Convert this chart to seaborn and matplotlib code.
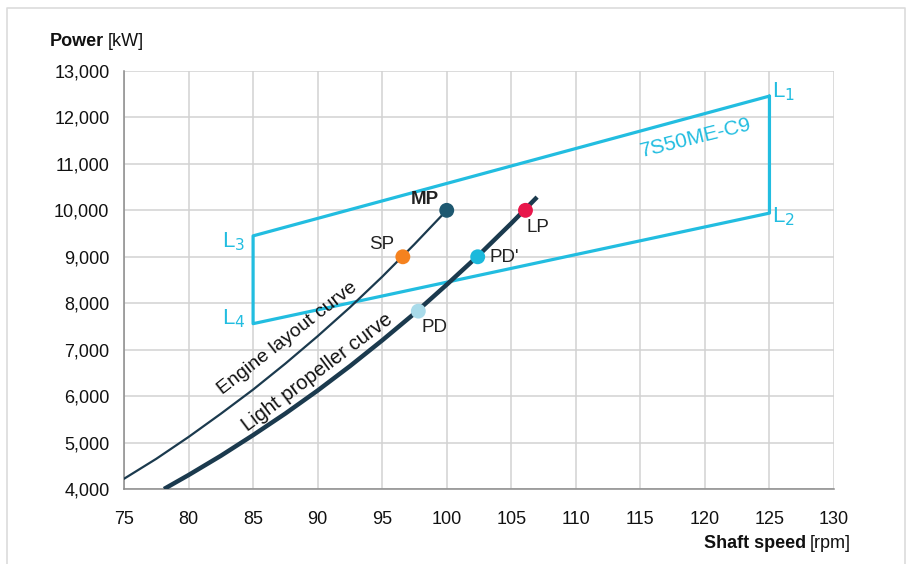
import numpy as np
import pandas as pd
import seaborn as sns
import matplotlib.pyplot as plt
from matplotlib.lines import Line2D

# engine layout curve (through MP)
layout_rpm = [75, 77.5, 80, 82.5, 85, 87.5, 90, 92.5, 95, 97.5, 100]
layout_kw = [4220, 4650, 5120, 5620, 6140, 6700, 7290, 7910, 8570, 9270, 10000]

# light propeller curve (through LP)
prop_rpm = [78.1, 80, 82.5, 85, 87.5, 90, 92.5, 95, 97.5, 100, 102.5, 105, 107]
prop_kw = [4000, 4300, 4715, 5160, 5625, 6120, 6645, 7200, 7780, 8400, 9040, 9720, 10285]

# layout diagram corners L1..L4
box_names = ['L1', 'L2', 'L4', 'L3']
box_rpm = [125, 125, 85, 85]
box_kw = [12460, 9940, 7560, 9450]

# operating points
pt_names = ['MP', 'SP', "PD'", 'LP', 'PD']
pt_rpm = [100, 96.6, 102.4, 106.1, 97.8]
pt_kw = [10000, 9000, 9000, 10000, 7830]
pt_colors = ['#1e5870', '#f5821f', '#1cb9dc', '#e8174b', '#a9dbea']

navy = '#1b3a4e'
cyan = '#22bde0'

sns.set_style('white')
plt.rcParams['font.family'] = ['Liberation Sans', 'DejaVu Sans']

fig = plt.figure(figsize=(9.09, 5.64), dpi=100)
ax = fig.add_axes([124 / 909, 1 - 489 / 564, 710 / 909, 418 / 564])

# layout box, closed polygon
box = pd.DataFrame({'rpm': box_rpm + box_rpm[:1], 'kw': box_kw + box_kw[:1]})
sns.lineplot(data=box, x='rpm', y='kw', sort=False, estimator=None,
             color=cyan, lw=2.3, ax=ax, zorder=3)

lay = pd.DataFrame({'rpm': layout_rpm, 'kw': layout_kw})
sns.lineplot(data=lay, x='rpm', y='kw', color=navy, lw=1.6, ax=ax, zorder=4)
prop = pd.DataFrame({'rpm': prop_rpm, 'kw': prop_kw})
sns.lineplot(data=prop, x='rpm', y='kw', color=navy, lw=3.2, ax=ax, zorder=4,
             solid_capstyle='butt')

pts = pd.DataFrame({'name': pt_names, 'rpm': pt_rpm, 'kw': pt_kw})
sns.scatterplot(data=pts, x='rpm', y='kw', hue='name', palette=pt_colors,
                s=115, edgecolor='none', legend=False, ax=ax, zorder=5)

# point labels
ax.text(100 - 0.6, 10230, 'MP', fontsize=13.5, fontweight='bold', color='#222',
        ha='right', va='center')
ax.text(96.6 - 0.7, 9270, 'SP', fontsize=13.5, color='#222', ha='right', va='center')
ax.text(103.3, 8990, "PD'", fontsize=13.5, color='#222', ha='left', va='center')
ax.text(106.2, 9620, 'LP', fontsize=13.5, color='#222', ha='left', va='center')
ax.text(98.05, 7470, 'PD', fontsize=13.5, color='#222', ha='left', va='center')

# corner labels
ax.text(125.2, 12560, 'L$_{1}$', fontsize=16, color=cyan, ha='left', va='center')
ax.text(125.2, 9860, 'L$_{2}$', fontsize=16, color=cyan, ha='left', va='center')
ax.text(84.4, 9330, 'L$_{3}$', fontsize=16, color=cyan, ha='right', va='center')
ax.text(84.4, 7660, 'L$_{4}$', fontsize=16, color=cyan, ha='right', va='center')
ax.text(119.3, 11560, '7S50ME-C9', fontsize=15, color=cyan, rotation=14,
        ha='center', va='center', rotation_mode='anchor')

ax.text(87.65, 7240, 'Engine layout curve', fontsize=14, color='#111', rotation=38,
        ha='center', va='center', rotation_mode='anchor')
ax.text(90.0, 6520, 'Light propeller curve', fontsize=14.5, color='#111', rotation=37,
        ha='center', va='center', rotation_mode='anchor')

ax.set_xlim(75, 130)
ax.set_ylim(4000, 13000)
ax.set_xticks(np.arange(75, 131, 5))
ax.set_yticks(np.arange(4000, 13001, 1000))
ax.set_yticklabels([f'{v:,}' for v in range(4000, 13001, 1000)])
ax.set_xlabel('')
ax.set_ylabel('')
ax.grid(True, color='#d2d2d2', lw=1.1)
ax.set_axisbelow(True)
for s in ['top', 'right']:
    ax.spines[s].set_visible(False)
for s in ['left', 'bottom']:
    ax.spines[s].set_color('#8a8a8a')
    ax.spines[s].set_linewidth(1.1)
ax.tick_params(axis='both', colors='#8a8a8a', length=7, width=1, labelsize=13,
               labelcolor='#111')
ax.tick_params(axis='x', pad=9)

# axis titles: bold part + normal part
r = fig.canvas.get_renderer()
t = fig.text(50 / 909, 1 - 42 / 564, 'Power', fontsize=13, fontweight='bold',
             color='#111', ha='left', va='center')
bb = t.get_window_extent(r)
fig.text(bb.x1 / 909 + 0.004, 1 - 42 / 564, '[kW]', fontsize=13, color='#111',
         ha='left', va='center')
t2 = fig.text(851 / 909, 1 - 543 / 564, '[rpm]', fontsize=13, color='#111',
              ha='right', va='center')
bb2 = t2.get_window_extent(r)
fig.text(bb2.x0 / 909 - 0.004, 1 - 543 / 564, 'Shaft speed', fontsize=13,
         fontweight='bold', color='#111', ha='right', va='center')

# light frame around the figure (open at the bottom)
fx = [7 / 909, 7 / 909, 905 / 909, 905 / 909]
fy = [0, 1 - 8 / 564, 1 - 8 / 564, 0]
fig.add_artist(Line2D(fx, fy, color='#dcdcdc', lw=1.2, transform=fig.transFigure))

fig.savefig('out.png', dpi=100)
